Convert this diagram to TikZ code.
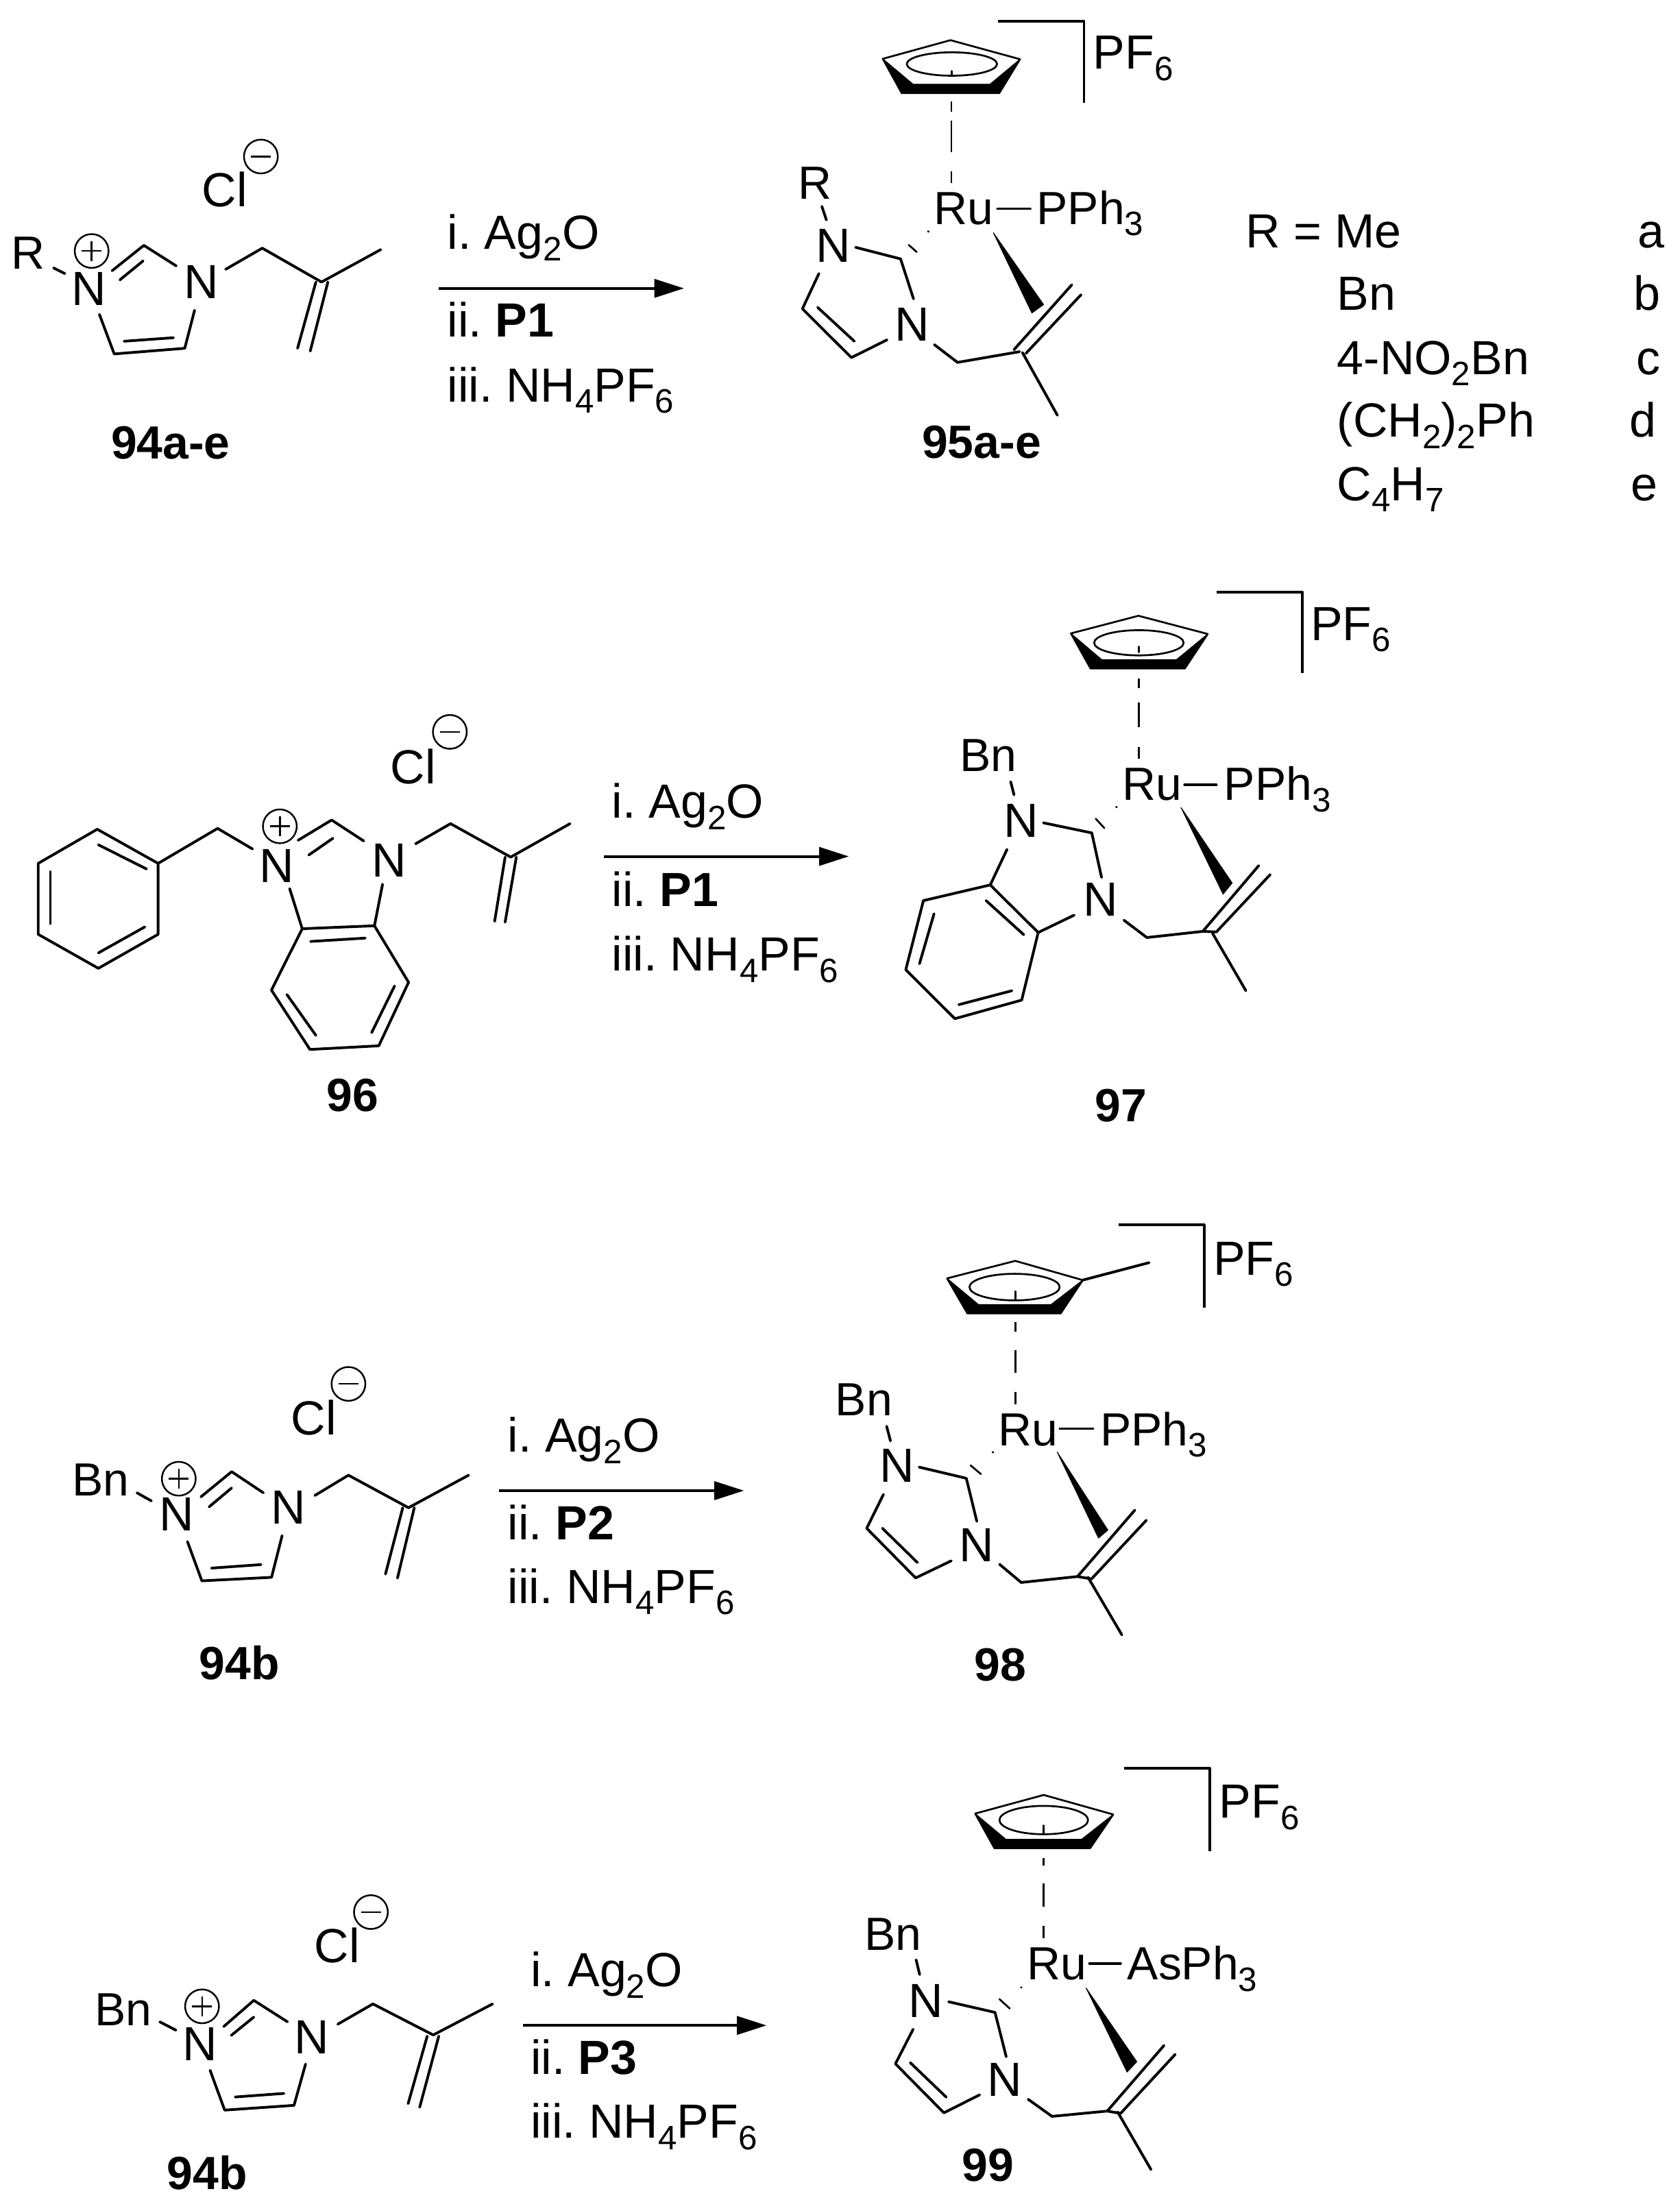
\documentclass[tikz,border=0pt]{standalone}
\usepackage{fontspec}
\setmainfont{Liberation Sans}
\usetikzlibrary{arrows.meta}
\newcommand{\sbs}[1]{\raisebox{-8pt}{\fontsize{24}{24}\selectfont #1}}
\newcommand{\plusq}[1]{\draw[chg] #1 circle[radius=12pt];\draw[chg] #1 ++(-7pt,0pt) -- ++(14pt,0pt);\draw[chg] #1 ++(0pt,-7pt) -- ++(0pt,14pt);}
\newcommand{\minusq}[1]{\draw[chg] #1 circle[radius=12pt];\draw[chg] #1 ++(-7pt,0pt) -- ++(14pt,0pt);}
\tikzset{
  bond/.style={line width=1.9pt,line cap=round,line join=round},
  thinbond/.style={bond,line width=1.3pt},
  chg/.style={line width=1.2pt},
  wedgefill/.style={fill=black,draw=black,line width=0.5pt,line join=round},
  rxnarrow/.style={line width=1.9pt,-{Triangle[length=21pt,width=13pt]}},
  reag/.style={anchor=base west,inner sep=0pt,font=\fontsize{34}{34}\selectfont},
  lab/.style={anchor=base west,inner sep=0pt,font=\fontsize{33}{33}\selectfont},
  pf/.style={anchor=base west,inner sep=0pt,font=\fontsize{34}{34}\selectfont},
  atom/.style={anchor=center,inner sep=0pt,font=\fontsize{34}{34}\selectfont},
  cmpd/.style={anchor=base,inner sep=0pt,font=\fontsize{33}{33}\selectfont\bfseries},
}
\begin{document}
\frenchspacing
\begin{tikzpicture}[x=1pt,y=-1pt]
\useasboundingbox (0,0) rectangle (1191.3,1568);
\fill[white] (0,0) rectangle (1191.3,1568);

% ---------- Reaction 1 ----------
\node[lab] (r1R) at (8,191) {R};
\node[atom] (r1Np) at (63,205) {N};
\node[atom] (r1N) at (143,200) {N};
\node[pf] (r1Cl) at (143,146.5) {Cl};
\minusq{(185,111)}
\plusq{(65,178)}
\draw[bond] (38,190)--(46,194);
\draw[bond] (79.5,192)--(102,174)--(125,188.6);
\draw[bond] (85,198.5)--(101.5,185);
\draw[bond] (138,220)--(131,247)--(81,251)--(70.5,223);
\draw[bond] (88,242)--(123,239.5);
\draw[bond] (160,191)--(186,176)--(228,200)--(270,177);
\draw[bond] (224,200)--(211,247);
\draw[bond] (232.5,200)--(220,249);
\coordinate (r1a) at (311,204.5);
\coordinate (r1b) at (485,204.5);
\draw[rxnarrow] (r1a)--(r1b);
\node[reag] (r1i) at (317,176.7) {i. Ag\sbs{2}O};
\node[reag] (r1ii) at (317,239) {ii. \textbf{P1}};
\node[reag] (r1iii) at (317,285) {iii. NH\sbs{4}PF\sbs{6}};
\node[cmpd] (r1c) at (121,325.5) {94a-e};
% product 95
\draw[thinbond] (674,28.5)--(626,41.7)--(639.4,66)--(708.6,66)--(723.3,42)--cycle;
\fill[wedgefill] (626,41.7)--(639.4,66)--(708.6,66)--(723.3,42)--(702,59.7)--(647.5,59.7)--cycle;
\draw[thinbond] (675,45.4) ellipse[x radius=32,y radius=8.3];
\draw[thinbond] (675,50.4)--(675,53.3);
\draw[thinbond,line cap=butt] (674.6,72)--(674.6,79.4) (674.6,85.6)--(674.6,108) (674.6,121.6)--(674.6,130);
\draw[bond,line cap=butt] (707.8,15)--(768.7,15)--(768.7,73);
\node[pf] (r1pf) at (775,49) {PF\sbs{6}};
\node[lab] (r1Ru) at (662,159) {Ru};
\draw[bond] (707.4,148)--(730.5,148);
\node[lab] (r1P) at (735,159) {PPh\sbs{3}};
\node[lab] (r1Rb) at (566,141) {R};
\node[atom] (r1Na) at (591,174) {N};
\node[atom] (r1Nb) at (647,230) {N};
\draw[bond] (582.8,146.4)--(586,156);
\draw[bond] (606.7,175.4)--(638.6,183.6)--(647.8,212);
\draw[bond] (580.7,194)--(569,219)--(603.7,253.6)--(629,241);
\draw[bond] (579.8,218)--(605.8,242);
\draw[bond] (662.5,244.4)--(679,257)--(723,249.4);
\draw[bond] (719,248)--(760,202);
\draw[bond] (727.5,250.6)--(766.6,209);
\draw[bond] (725,250)--(749.8,294.5);
\fill[wedgefill] (704.4,165)--(731.7,222)--(740,216)--cycle;
\draw[thinbond] (658,164)--(658.5,164.3) (644.4,173.7)--(650,178.7);
\node[cmpd] (r1d) at (696,325) {95a-e};
% legend
\node[reag] (lR) at (883,175.7) {R = Me};
\node[reag] (lB) at (948,220) {Bn};
\node[reag] (lN) at (948,265.5) {4-NO\sbs{2}Bn};
\node[reag] (lC) at (948,310) {(CH\sbs{2})\sbs{2}Ph};
\node[reag] (lH) at (948,355) {C\sbs{4}H\sbs{7}};
\node[reag,anchor=base] (la) at (1171,175.7) {a};
\node[reag,anchor=base] (lb) at (1168,220) {b};
\node[reag,anchor=base] (lc) at (1169,265.5) {c};
\node[reag,anchor=base] (ld) at (1165,310) {d};
\node[reag,anchor=base] (le) at (1166,355) {e};

% ---------- Reaction 2, reactant ----------
\begin{scope}[shift={(0,3.15)},x=0.9922pt,y=-0.9921pt]
\node[atom] (r2Np) at (198,615.6) {N};
\node[atom] (r2N) at (278,612) {N};
\node[pf] (r2Cl) at (279,557) {Cl};
\minusq{(321.5,520)}
\plusq{(200,587.5)}
\draw[bond] (155.5,589)--(180.5,603.7);
\draw[bond] (113,614)--(155.5,589);
\draw[bond] (113,614)--(69.5,589.6)--(27.3,614)--(27.3,664.7)--(70.3,689)--(113,664.7)--cycle;
\draw[bond] (70.3,600.7)--(104.7,618);
\draw[bond] (36,620)--(36,657);
\draw[bond] (70.3,678)--(103.5,659.4);
\draw[bond] (213,597.5)--(237,583)--(260,598);
\draw[bond] (220.7,608)--(238,596);
\draw[bond] (273.4,628.9)--(267.6,658.6)--(216,660.7)--(207,632);
\draw[bond] (222,669.8)--(261,667.4);
\draw[bond] (267.6,658.6)--(292,699)--(270.7,744.4)--(221.5,747)--(194,704.6)--(216,660.7);
\draw[bond] (282,701.6)--(265.6,735);
\draw[bond] (225.8,737)--(205,707.7);
\draw[bond] (297,600)--(322,585.6)--(365,609.5)--(407.4,585.6);
\draw[bond] (361,609.5)--(353.5,655.4);
\draw[bond] (369,609.5)--(361,656);
\coordinate (r2a) at (431.6,609);
\coordinate (r2b) at (606.6,609);
\draw[rxnarrow] (r2a)--(r2b);
\node[reag] (r2i) at (437,581.6) {i. Ag\sbs{2}O};
\node[reag] (r2ii) at (437,644.5) {ii. \textbf{P1}};
\node[reag] (r2iii) at (437,691) {iii. NH\sbs{4}PF\sbs{6}};
\node[cmpd] (r2c) at (252,791) {96};
\end{scope}
% product 97
\begin{scope}[shift={(5.1,3.15)},x=0.9916pt,y=-0.9921pt]
\draw[thinbond] (809,437)--(760.7,449.6)--(774.7,474.6)--(842.2,474.6)--(858.5,450)--cycle;
\fill[wedgefill] (760.7,449.6)--(774.7,474.6)--(842.2,474.6)--(858.5,450)--(836.2,468.3)--(782.7,468.3)--cycle;
\draw[thinbond] (809.3,456.3) ellipse[x radius=32,y radius=9];
\draw[thinbond] (809.3,459)--(809.3,463);
\draw[thinbond,line cap=butt] (809.3,482)--(809.3,488.7) (809.3,499)--(809.3,516.6) (809.3,531)--(809.3,539);
\draw[bond,line cap=butt] (864.7,420)--(926,420)--(926,478);
\node[pf] (r2pf) at (932,454.5) {PF\sbs{6}};
\node[lab] (r2Ru) at (797.5,569) {Ru};
\draw[bond] (842,557.7)--(864.7,557.7);
\node[lab] (r2P) at (870,569) {PPh\sbs{3}};
\node[lab] (r2Bn) at (681,548) {Bn};
\node[atom] (r2Na) at (725,583.5) {N};
\node[atom] (r2Nb) at (781.8,640) {N};
\draw[bond] (717.6,555.6)--(720,565);
\draw[bond] (741,585)--(775.6,592.2)--(782.6,624);
\draw[bond] (715,604)--(703,629.4)--(737.3,663.4)--(763,651);
\draw[bond] (703,629.4)--(655.2,640.6)--(642.6,690)--(677.7,725)--(725.5,711.7)--(737.3,663.4);
\draw[bond] (700,640.6)--(727,665);
\draw[bond] (662.8,650)--(652.4,685.7);
\draw[bond] (680.5,715)--(718.5,705);
\draw[bond] (798.6,654.6)--(815,667)--(855,662.6);
\draw[bond] (855,662.6)--(895,615.6);
\draw[bond] (864.7,663)--(903.2,622);
\draw[bond] (855,662.6)--(864.7,663);
\draw[bond] (862,664)--(885.8,705);
\fill[wedgefill] (839.4,574)--(869.5,636)--(876,628)--cycle;
\draw[thinbond] (793,573.6)--(793.5,573.9) (778.4,582)--(784.6,588.8);
\node[cmpd] (r2d) at (796.4,798.5) {97};
\end{scope}

% ---------- Reaction 3, reactant ----------
\begin{scope}[shift={(0,924.2)},x=0.3408pt,y=-0.1921pt]
\node[lab] (r3Bn) at (150,710) {Bn};
\node[atom] (r3Np) at (368,780) {N};
\node[atom] (r3N) at (600,755) {N};
\node[pf] (r3Cl) at (605,485) {Cl};
\minusq{(725,298)}
\plusq{(372,648)}
\draw[bond] (285,700)--(315,730);
\draw[bond] (418,715)--(482,622)--(548,700);
\draw[bond] (435,752)--(482,682);
\draw[bond] (587,858)--(565,1012)--(420,1025)--(390,880);
\draw[bond] (440,978)--(543,965);
\draw[bond] (655,710)--(725,635)--(850,755)--(975,635);
\draw[bond] (838,755)--(802,1000);
\draw[bond] (862,755)--(827,1015);
\coordinate (r3a) at (1038,692);
\coordinate (r3b) at (1548,692);
\draw[rxnarrow] (r3a)--(r3b);
\node[reag] (r3i) at (1056,550) {i. Ag\sbs{2}O};
\node[reag] (r3ii) at (1056,873) {ii. \textbf{P2}};
\node[reag] (r3iii) at (1056,1108) {iii. NH\sbs{4}PF\sbs{6}};
\node[cmpd] (r3c) at (498,1388) {94b};
\end{scope}
% product 98
\begin{scope}[shift={(558.8,850.8)},x=0.2479pt,y=-0.2479pt]
\draw[thinbond] (650,175)--(455,225)--(513,325)--(780,325)--(843,230)--cycle;
\fill[wedgefill] (455,225)--(513,325)--(780,325)--(843,230)--(752,300)--(545,300)--cycle;
\draw[bond] (843,230)--(1033,180);
\draw[thinbond] (648,250) ellipse[x radius=129,y radius=38];
\draw[thinbond] (651,262)--(651,285);
\draw[thinbond,line cap=butt] (651,350)--(651,378) (651,430)--(651,495) (651,550)--(651,585);
\draw[bond,line cap=butt] (945,72)--(1190,72)--(1190,308);
\node[pf] (r3pf) at (1216,215) {PF\sbs{6}};
\node[lab] (r3Ru) at (600,703) {Ru};
\draw[bond] (778,655)--(872,655);
\node[lab] (r3P) at (892,703) {PPh\sbs{3}};
\node[lab] (r3Bnb) at (135,618) {Bn};
\node[atom] (r3Na) at (312,760) {N};
\node[atom] (r3Nb) at (540,988) {N};
\draw[bond] (282,648)--(293,690);
\draw[bond] (375,765)--(510,797)--(540,920);
\draw[bond] (273,843)--(225,940)--(365,1082)--(467,1033);
\draw[bond] (270,940)--(370,1038);
\draw[bond] (605,1043)--(667,1095)--(828,1078);
\draw[bond] (828,1078)--(992,888);
\draw[bond] (868,1085)--(1025,917);
\draw[bond] (828,1078)--(868,1085);
\draw[bond] (858,1080)--(955,1245);
\fill[wedgefill] (770,722)--(888,968)--(915,945)--cycle;
\draw[thinbond] (585,722)--(587,723) (522,760)--(552,785);
\node[cmpd] (r3d) at (607,1377) {98};
\end{scope}

% ---------- Reaction 4, reactant ----------
\begin{scope}[shift={(0,1302.7)},x=0.3564pt,y=-0.1692pt]
\node[lab] (r4Bn) at (188,790) {Bn};
\node[atom] (r4Np) at (398,868) {N};
\node[atom] (r4N) at (620,840) {N};
\node[pf] (r4Cl) at (625,527) {Cl};
\minusq{(738,315)}
\plusq{(402,710)}
\draw[bond] (318,775)--(350,810);
\draw[bond] (445,795)--(505,685)--(572,775);
\draw[bond] (460,832)--(505,755);
\draw[bond] (608,952)--(585,1125)--(447,1145)--(418,978);
\draw[bond] (468,1090)--(565,1075);
\draw[bond] (672,785)--(742,700)--(862,830)--(980,700);
\draw[bond] (850,835)--(812,1118);
\draw[bond] (873,835)--(835,1133);
\coordinate (r4a) at (1040,790);
\coordinate (r4b) at (1525,790);
\draw[rxnarrow] (r4a)--(r4b);
\node[reag] (r4i) at (1055,628) {i. Ag\sbs{2}O};
\node[reag] (r4ii) at (1055,994) {ii. \textbf{P3}};
\node[reag] (r4iii) at (1055,1262) {iii. NH\sbs{4}PF\sbs{6}};
\node[cmpd] (r4c) at (412,1478) {94b};
\end{scope}
% product 99
\begin{scope}[shift={(583,1239)},x=0.2095pt,y=-0.2095pt]
\draw[thinbond] (750,162)--(518,225)--(583,342)--(907,342)--(985,228)--cycle;
\fill[wedgefill] (518,225)--(583,342)--(907,342)--(985,228)--(878,312)--(622,312)--cycle;
\draw[thinbond] (750,247) ellipse[x radius=150,y radius=48];
\draw[thinbond] (750,265)--(750,295);
\draw[thinbond,line cap=butt] (750,375)--(750,402) (750,462)--(750,540) (750,605)--(750,648);
\draw[bond,line cap=butt] (1022,72)--(1312,72)--(1312,352);
\node[pf] (r4pf) at (1343,240) {PF\sbs{6}};
\node[lab] (r4Ru) at (692,788) {Ru};
\draw[bond] (905,732)--(1010,732);
\node[lab] (r4P) at (1032,788) {AsPh\sbs{3}};
\node[lab] (r4Bnb) at (142,688) {Bn};
\node[atom] (r4Na) at (350,858) {N};
\node[atom] (r4Nb) at (618,1125) {N};
\draw[bond] (318,720)--(330,770);
\draw[bond] (428,862)--(585,898)--(623,1048);
\draw[bond] (308,955)--(248,1072)--(412,1238)--(533,1177);
\draw[bond] (298,1068)--(420,1185);
\draw[bond] (697,1192)--(778,1250)--(965,1232);
\draw[bond] (965,1232)--(1157,1010);
\draw[bond] (1010,1240)--(1195,1040);
\draw[bond] (965,1232)--(1010,1240);
\draw[bond] (1000,1235)--(1113,1430);
\fill[wedgefill] (893,815)--(1032,1100)--(1065,1065)--cycle;
\draw[thinbond] (673,813)--(675,814) (600,853)--(635,885);
\node[cmpd] (r4d) at (562,1470) {99};
\end{scope}
\end{tikzpicture}
\end{document}
